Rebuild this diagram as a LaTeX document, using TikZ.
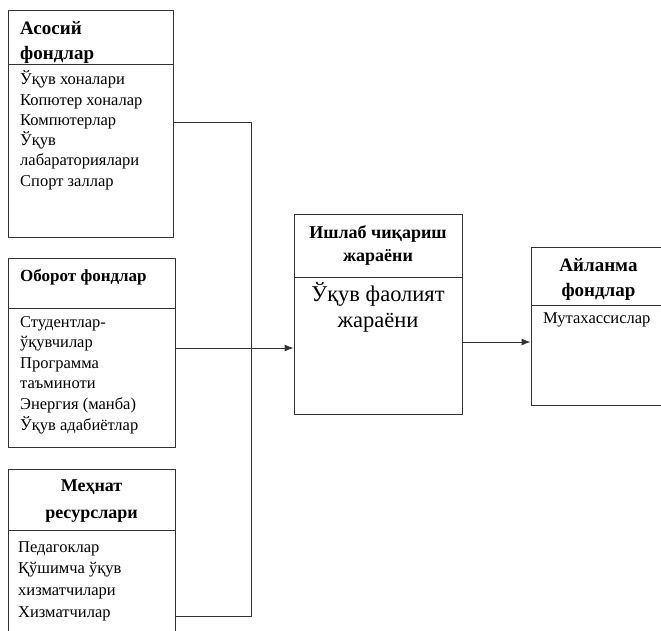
\documentclass[tikz,border=0pt]{standalone}
\usepackage{fontspec}
\setmainfont{Liberation Serif}
\usetikzlibrary{arrows.meta}
\definecolor{boxline}{gray}{0.2}

\begin{document}
\begin{tikzpicture}[x=1pt, y=-1pt,
	frame/.style={draw=boxline, line width=0.9pt, inner sep=0pt},
	head/.style={font=\fontsize{19}{25}\selectfont\bfseries, inner sep=0pt},
	items/.style={font=\fontsize{16.5}{20.2}\selectfont, align=left, inner sep=0pt, anchor=base west},
	link/.style={draw=boxline, line width=0.9pt},
	tip/.style={-{Latex[length=9pt, width=7pt]}}]
	\clip (0, 0) rectangle (661, 631);

	% frames
	\draw node[frame, minimum width=165, minimum height=54] at (90.5, 37) (asosH) {};
	\draw node[frame, minimum width=165, minimum height=173] at (90.5, 150.5) (asosB) {};
	\draw node[frame, minimum width=167, minimum height=50] at (91.5, 283) (oborotH) {};
	\draw node[frame, minimum width=167, minimum height=139] at (91.5, 377.5) (oborotB) {};
	\draw node[frame, minimum width=167, minimum height=61] at (91.5, 499.5) (mehnatH) {};
	\draw node[frame, minimum width=167, minimum height=120] at (91.5, 590) (mehnatB) {};
	\draw node[frame, minimum width=168, minimum height=63] at (378, 245.5) (ishlabH) {};
	\draw node[frame, minimum width=168, minimum height=137] at (378, 345.5) (ishlabB) {};
	\draw node[frame, minimum width=135, minimum height=58] at (598.5, 276) (aylanmaH) {};
	\draw node[frame, minimum width=135, minimum height=100] at (598.5, 355) (aylanmaB) {};

	% texts (anchored at the baseline of their last line)
	\draw node[head, align=left, anchor=base west] at (20, 59.5) (asosT) {Асосий\\фондлар};
	\draw node[items] at (20, 186) (asosL) {Ўқув хоналари\\Копютер хоналар\\Компютерлар\\Ўқув\\лабараториялари\\Спорт заллар};
	\draw node[head, anchor=base west, font=\fontsize{17}{22}\selectfont\bfseries] at (20, 281) (oborotT) {Оборот фондлар};
	\draw node[items, font=\fontsize{16.5}{20.6}\selectfont] at (20, 430) (oborotL) {Студентлар-\\ўқувчилар\\Программа\\таъминоти\\Энергия (манба)\\Ўқув адабиётлар};
	\draw node[head, align=center, anchor=base, font=\fontsize{18}{27}\selectfont\bfseries] at (91.5, 518.5) (mehnatT) {Меҳнат\\ресурслари};
	\draw node[items, font=\fontsize{16.5}{21.6}\selectfont] at (18, 617) (mehnatL) {Педагоклар\\Қўшимча ўқув\\хизматчилари\\Хизматчилар};
	\draw node[head, align=center, anchor=base, font=\fontsize{18}{23}\selectfont\bfseries] at (378, 261) (ishlabT) {Ишлаб чиқариш\\жараёни};
	\draw node[items, align=center, anchor=base, font=\fontsize{22.5}{26}\selectfont] at (378, 327.5) (ishlabL) {Ўқув фаолият\\жараёни};
	\draw node[head, align=center, anchor=base] at (598.5, 296.5) (aylanmaT) {Айланма\\фондлар};
	\draw node[items] at (543, 323) (aylanmaL) {Мутахассислар};

	% connectors
	\coordinate (busTop) at (251, 122);
	\coordinate (busMid) at (251, 348);
	\coordinate (busBot) at (251, 616);
	\coordinate (outMid) at (496, 342);
	\draw[link] (asosB.east |- busTop) -- (busTop) -- (busBot) -- (mehnatB.east |- busBot);
	\draw[link] (oborotB.east |- busMid) -- (busMid);
	\draw[link, tip] (busMid) -- (ishlabB.west |- busMid);
	\draw[link, tip] (ishlabB.east |- outMid) -- (aylanmaB.west |- outMid);
\end{tikzpicture}
\end{document}
